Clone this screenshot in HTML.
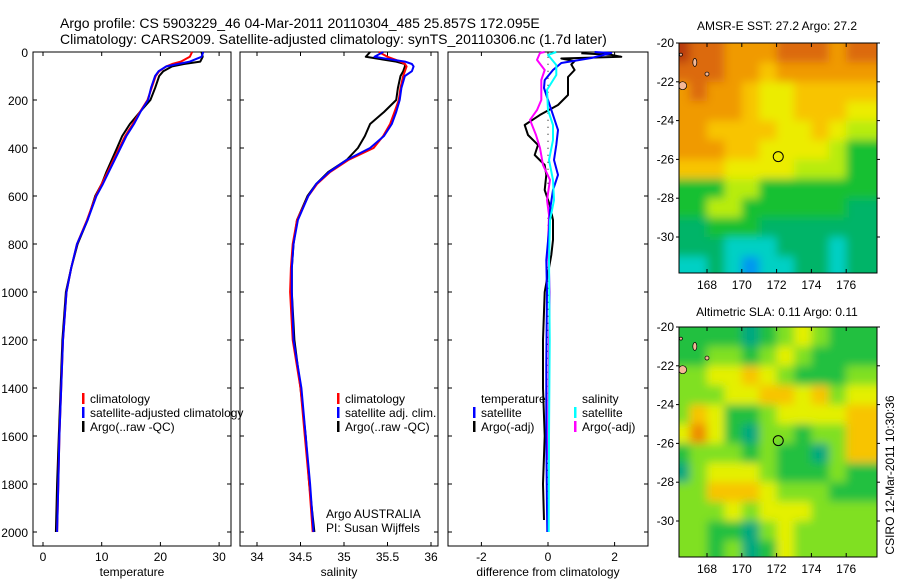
<!DOCTYPE html>
<html><head><meta charset="utf-8"><style>
body{margin:0;background:#fff;}
svg{display:block;font-family:"Liberation Sans",sans-serif;}
text{fill:#000;}
</style></head><body>
<svg id="fig" width="900" height="580" viewBox="0 0 900 580">
<text x="60" y="28" font-size="14">Argo profile: CS 5903229_46 04-Mar-2011 20110304_485 25.857S 172.095E</text>
<text x="60" y="44" font-size="14">Climatology: CARS2009. Satellite-adjusted climatology: synTS_20110306.nc (1.7d later)</text>
<g id="plots"></g>
<text x="777" y="30" font-size="12" text-anchor="middle">AMSR-E SST: 27.2 Argo: 27.2</text>
<text x="777" y="316" font-size="12" text-anchor="middle">Altimetric SLA: 0.11 Argo: 0.11</text>
<text transform="translate(894,475) rotate(-90)" font-size="12" text-anchor="middle">CSIRO 12-Mar-2011 10:30:36</text>
</svg>
<script>
// ---- profile data ----
const depths=[0,20,40,50,60,80,100,150,200,250,300,350,400,450,500,550,600,700,800,900,1000,1200,1400,1600,1800,2000];
const tempClim=[25.4,25,23.5,22,21,19.8,19.2,18.5,17.8,16.5,15.3,14,13,12,11,10,9,7.5,5.8,4.8,4.0,3.4,3.1,2.8,2.6,2.4];
const tempSat=[27.3,27,25,23,21,19.7,19.1,18.4,17.9,16.6,15.5,14.2,13.2,12.2,11.2,10.2,9.1,7.6,5.8,4.8,4.0,3.4,3.1,2.8,2.6,2.4];
const tempArgo=[27.0,27.2,26.8,24,22,20.5,19.8,19.1,18.3,16.5,14.8,13.5,12.6,11.7,10.8,10,8.9,7.6,5.9,4.8,3.9,3.3,3.0,2.7,2.4,2.2];
const salClim=[35.4,35.5,35.65,35.7,35.72,35.7,35.68,35.65,35.63,35.58,35.53,35.45,35.34,35.05,34.84,34.69,34.59,34.46,34.41,34.39,34.38,34.41,34.5,34.55,34.6,34.64];
const salSat=[35.45,35.35,35.7,35.78,35.8,35.78,35.7,35.66,35.64,35.6,35.55,35.46,35.3,35.03,34.83,34.68,34.59,34.47,34.42,34.4,34.4,34.42,34.51,34.56,34.61,34.65];
const salArgo=[35.3,35.25,35.6,35.7,35.7,35.68,35.65,35.62,35.6,35.46,35.3,35.24,35.16,35.03,34.82,34.68,34.58,34.46,34.42,34.4,34.4,34.43,34.5,34.56,34.6,34.66];
const dTArgoDepth=[5,12,20,27,38,52,75,104,138,179,221,262,304,346,387,429,471,512,575,637,700,783,846,1000,1200,1400,1600,1800,1950];
const dTArgo=[1.0,1.9,2.2,0.4,0.8,0.7,0.8,0.6,0.6,0.6,0.3,-0.24,-0.7,-0.6,-0.3,-0.4,-0.1,-0.05,-0.1,0.05,0.15,0.15,0.1,-0.1,-0.15,-0.15,-0.1,-0.15,-0.12];
const dTSatDepth=[0,4,25,46,75,117,150,200,262,325,387,450,512,575,658,742,867,1000,1300,1600,1900,2000];
const dTSat=[1.4,1.9,1.3,0.4,0.15,-0.1,-0.12,0,0.15,0.3,0.25,0.18,0.3,0.15,0.06,0.03,-0.05,-0.03,-0.05,-0.05,-0.03,-0.02];
const dSSatDepth=[0,12,54,96,158,242,304,367,450,533,617,700,867,1200,1600,2000];
const dSSat=[0.25,0,0.25,0.25,-0.03,0,0.15,0.15,0.03,0.15,0.18,0.06,0.03,0.05,0.03,0.02];
const dSArgoDepth=[0,4,33,75,117,200,242,283,346,400,471,533,617,679,800,1000,1200,1400,1700];
const dSArgo=[-0.1,-0.24,-0.33,-0.1,-0.2,-0.2,-0.33,-0.54,-0.36,-0.24,-0.15,0.06,-0.03,0.03,0,0.05,0.03,0.02,0];
const depthTicks=[0,200,400,600,800,1000,1200,1400,1600,1800,2000];
const tempTicks=[0,10,20,30];
const salTicks=[34,34.5,35,35.5,36];
const diffTicks=[-2,0,2];
// ---- map data (rows lat -20.5..-31.5, cols lon 166.5..176.5) ----
const sstGrid=[
[8,7,7,6,6,6,7,7,7,6,7],[7,7,7,6,6,5,6,6,6,6,6],[6,7,6,6,5,4,4,5,5,5,5],[6,6,6,6,5,4,4,5,5,5,4],
[6,6,5,5,5,5,4,4,5,4,3],[6,6,6,5,5,4,4,4,4,3,2],[5,5,5,4,4,4,4,3,3,3,2],[2,2,2,3,3,2,2,2,2,2,2],
[2,2,3,3,2,2,2,2,2,2,1],[1,1,2,2,2,1,1,1,1,1,1],[1,1,1,0,0,0,1,1,1,0,1],[0,0,1,0,-1,0,0,1,1,0,1]];
const slaGrid=[
[1,1,1,1,0,1,2,3,2,1,1],[1,1,2,2,1,2,3,2,1,1,1],[2,2,3,3,4,3,2,1,1,1,2],[2,2,2,3,3,4,4,3,4,2,3],
[2,4,3,1,1,2,3,3,3,3,4],[3,5,3,1,0,2,2,1,2,2,4],[1,2,2,2,1,2,1,1,0,2,4],[0,2,3,3,3,2,1,1,1,2,1],
[2,2,4,4,4,3,2,2,2,1,1],[2,2,2,3,2,3,3,3,2,2,2],[2,2,1,1,0,2,3,2,2,2,2],[2,2,1,2,0,1,3,2,2,2,2]];
const lonTicks=[168,170,172,174,176];
const latTicks=[-20,-22,-24,-26,-28,-30];
const argoLon=172.095, argoLat=-25.857;

const NS='http://www.w3.org/2000/svg';
const root=document.getElementById('plots');
function mk(tag,attrs,parent){const e=document.createElementNS(NS,tag);for(const k in attrs)e.setAttribute(k,attrs[k]);(parent||root).appendChild(e);return e;}
const yD=d=>52+d*0.24;
const PT=52,PB=546;

function panel(x0,x1,xs,ticks,fmt,label,name,showY){
  const g=mk('g',{});
  
  
  mk('rect',{x:x0,y:PT,width:x1-x0,height:PB-PT,fill:'none',stroke:'#000','stroke-width':1},g);
  depthTicks.forEach(d=>{const y=yD(d);
    mk('line',{x1:x0,x2:x0+4,y1:y,y2:y,stroke:'#000'},g);
    mk('line',{x1:x1-4,x2:x1,y1:y,y2:y,stroke:'#000'},g);
    if(showY){const t=mk('text',{x:x0-5,y:y+5,'font-size':12,'text-anchor':'end'},g);t.textContent=d;
      
      }
  });
  ticks.forEach(v=>{const x=xs(v);
    mk('line',{x1:x,x2:x,y1:PT,y2:PT+4,stroke:'#000'},g);
    mk('line',{x1:x,x2:x,y1:PB-4,y2:PB,stroke:'#000'},g);
    const t=mk('text',{x:x,y:561,'font-size':12,'text-anchor':'middle'},g);t.textContent=fmt(v);
    
    
  });
  const t=mk('text',{x:(x0+x1)/2,y:576,'font-size':12,'text-anchor':'middle'},g);t.textContent=label;
  
  
  return g;
}
function line(g,xs,vals,ds,color,w,name){
  const pts=vals.map((v,i)=>xs(v).toFixed(1)+','+yD(ds[i]).toFixed(1)).join(' ');
  const p=mk('polyline',{points:pts,fill:'none',stroke:color,'stroke-width':w,'stroke-linejoin':'round'},g);
  
  
}
function legend(g,x,y,items){
  items.forEach((it,i)=>{
    if(it[0])mk('rect',{x:x,y:y+i*14-10,width:2.5,height:11,fill:it[0]},g);
    const t=mk('text',{x:x+8,y:y+i*14,'font-size':12},g);t.textContent=it[1];
    
    
  });
}
// temperature panel
const xT=v=>43+v*5.87;
const g1=panel(33,231,xT,tempTicks,v=>v,'temperature','temperature-panel',true);
line(g1,xT,tempArgo,depths,'#000',2,'argo-temperature-line');
line(g1,xT,tempClim,depths,'#f00',2,'climatology-temperature-line');
line(g1,xT,tempSat,depths,'#00f',2,'satellite-temperature-line');
legend(g1,82,403,[['#f00','climatology'],['#00f','satellite-adjusted climatology'],['#000','Argo(..raw -QC)']]);
// salinity panel
const xS=v=>257+(v-34)*87;
const g2=panel(240,438,xS,salTicks,v=>v,'salinity','salinity-panel',false);
line(g2,xS,salArgo,depths,'#000',2,'argo-salinity-line');
line(g2,xS,salClim,depths,'#f00',2,'climatology-salinity-line');
line(g2,xS,salSat,depths,'#00f',2,'satellite-salinity-line');
legend(g2,337,403,[['#f00','climatology'],['#00f','satellite adj. clim.'],['#000','Argo(..raw -QC)']]);
const a1=mk('text',{x:326,y:518,'font-size':12},g2);a1.textContent='Argo AUSTRALIA';


const a2=mk('text',{x:326,y:532,'font-size':12},g2);a2.textContent='PI: Susan Wijffels';


// difference panel
const xDf=v=>548+v*33.3;
const g3=panel(448,648,xDf,diffTicks,v=>v,'difference from climatology','difference-panel',false);
mk('line',{x1:xDf(0),x2:xDf(0),y1:yD(20),y2:yD(2000),stroke:'#000','stroke-width':1,'stroke-dasharray':'1,6'},g3);
line(g3,xDf,dTArgo,dTArgoDepth,'#000',2,'argo-temperature-diff-line');
line(g3,xDf,dSArgo,dSArgoDepth,'#f0f',2,'argo-salinity-diff-line');
line(g3,xDf,dTSat,dTSatDepth,'#00f',2,'satellite-temperature-diff-line');
line(g3,xDf,dSSat,dSSatDepth,'#0ff',2,'satellite-salinity-diff-line');
legend(g3,473,403,[[null,'temperature'],['#00f','satellite'],['#000','Argo(-adj)']]);
legend(g3,574,403,[[null,'salinity'],['#0ff','satellite'],['#f0f','Argo(-adj)']]);

// maps
const defs=mk('defs',{});
const f=mk('filter',{id:'blur',x:'-20%',y:'-20%',width:'140%',height:'140%'},defs);
mk('feGaussianBlur',{stdDeviation:4.5},f);
const sstCol={8:'#b83a10',7:'#dc6a0c',6:'#f09a00',5:'#f8c400',4:'#ecec00',3:'#b8ec10',2:'#18c030',1:'#00b468',0:'#00d0c4','-1':'#0096f0'};
const slaCol={0:'#00a880',1:'#20c040',2:'#80e020',3:'#e4f000',4:'#f8c400',5:'#ee8c00'};
function map(y0,grid,cols,name){
  const X0=679,X1=877,Y1=y0+230;
  const xl=lon=>707+(lon-168)*17.4;
  const yl=lat=>y0+(-20-lat)*19.4;
  const g=mk('g',{});
  
  
  const cp=mk('clipPath',{id:'cp'+y0},defs);
  mk('rect',{x:X0,y:y0,width:X1-X0,height:Y1-y0},cp);
  const cg=mk('g',{'clip-path':'url(#cp'+y0+')'},g);
  const bg=mk('g',{filter:'url(#blur)'},cg);
  grid.forEach((row,r)=>row.forEach((v,c)=>{
    let x=xl(166+c),w=17.4,y=yl(-20-r),h=19.4;
    if(c===0){x-=30;w+=30;} if(c===row.length-1)w+=40;
    if(r===0){y-=30;h+=30;} if(r===grid.length-1)h+=40;
    const cell=mk('rect',{x:x,y:y,width:w+0.5,height:h+0.5,fill:cols[v]},bg);
    
    
  }));
  // islands
  [[167.3,-21.0,2,4],[166.6,-22.2,4,4],[168,-21.6,2,2],[166.5,-20.6,1.5,1.5]].forEach(s=>{
    const e=mk('ellipse',{cx:xl(s[0]),cy:yl(s[1]),rx:s[2],ry:s[3],fill:'#f4b896',stroke:'#000','stroke-width':0.7},cg);
    
    
  });
  mk('rect',{x:X0,y:y0,width:X1-X0,height:Y1-y0,fill:'none',stroke:'#000'},g);
  lonTicks.forEach(l=>{const x=xl(l);
    mk('line',{x1:x,x2:x,y1:y0,y2:y0+4,stroke:'#000'},g);
    mk('line',{x1:x,x2:x,y1:Y1-4,y2:Y1,stroke:'#000'},g);
    const t=mk('text',{x:x,y:Y1+16,'font-size':12,'text-anchor':'middle'},g);t.textContent=l;
    
    
  });
  latTicks.forEach(l=>{const y=yl(l);
    mk('line',{x1:X0-3,x2:X0,y1:y,y2:y,stroke:'#000'},g);
    mk('line',{x1:X1,x2:X1+3,y1:y,y2:y,stroke:'#000'},g);
    const t=mk('text',{x:X0-5,y:y+4,'font-size':12,'text-anchor':'end'},g);t.textContent=l;
    
    
  });
  const c=mk('circle',{cx:xl(argoLon),cy:yl(argoLat),r:5,fill:'none',stroke:'#000','stroke-width':1},g);
  
  
}
map(43,sstGrid,sstCol,'sst-map');
map(327,slaGrid,slaCol,'sla-map');
</script>
</body></html>
